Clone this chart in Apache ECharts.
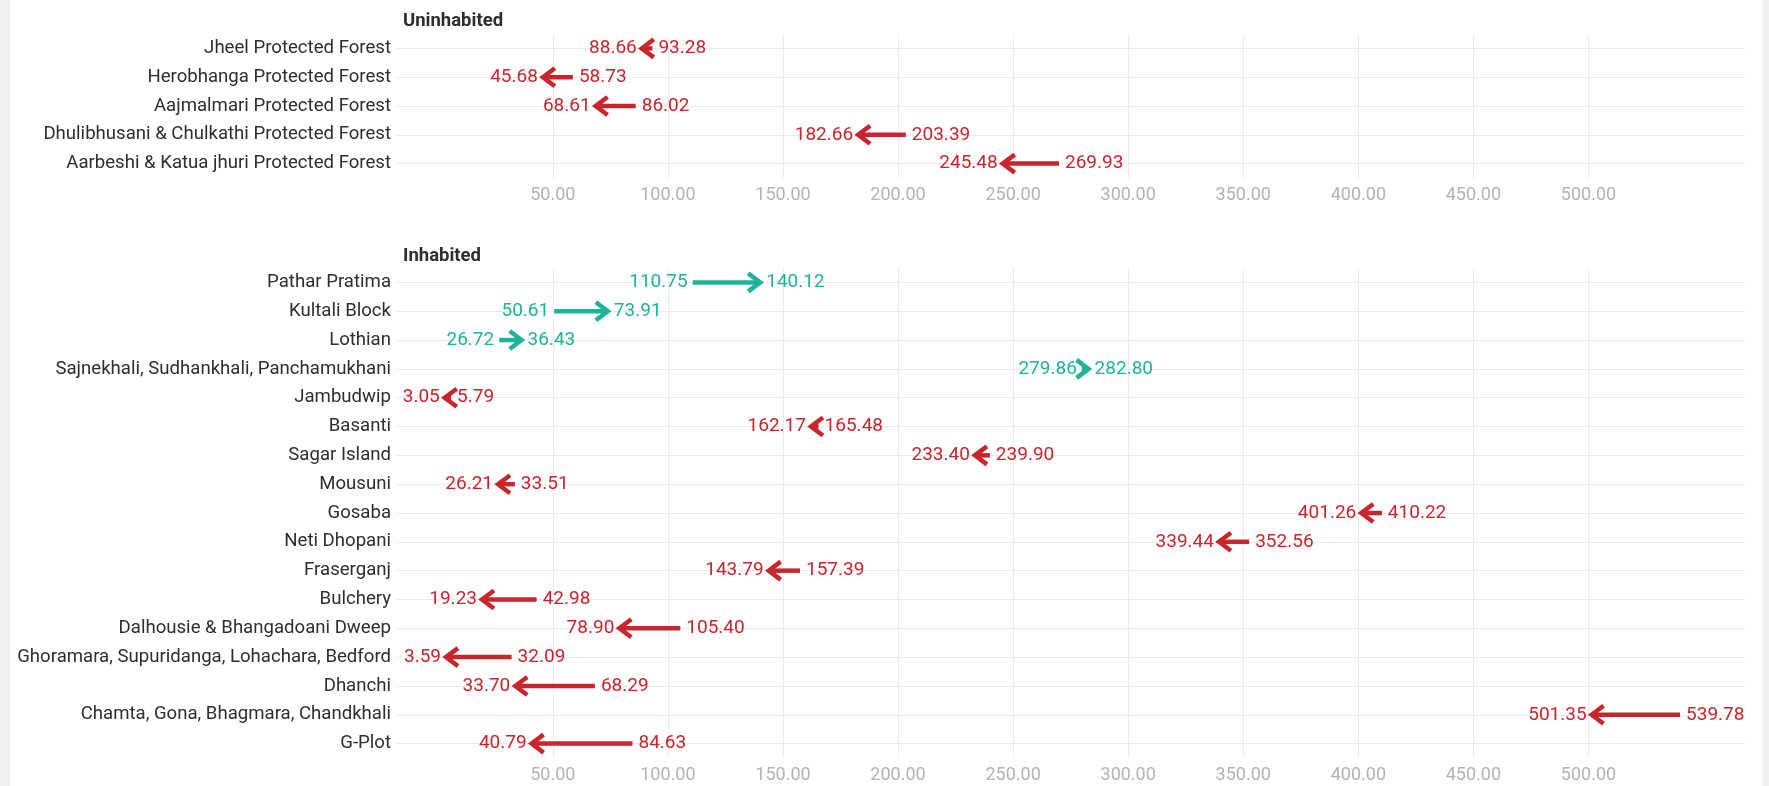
<!DOCTYPE html>
<html>
<head>
<meta charset="utf-8">
<script src="https://cdn.jsdelivr.net/npm/echarts@6.0.0/dist/echarts.min.js"></script>
<style>
  html, body { margin: 0; padding: 0; background: #fff; }
  #echar { width: 1769px; height: 786px; }
</style>
</head>
<body>
<div id="echar"></div>
<script>
// Uninhabited islands: old value -> new value
var uninhabitedNames = [
  "Jheel Protected Forest",
  "Herobhanga Protected Forest",
  "Aajmalmari Protected Forest",
  "Dhulibhusani & Chulkathi Protected Forest",
  "Aarbeshi & Katua jhuri Protected Forest"
];
var uninhabitedFrom = [93.28, 58.73, 86.02, 203.39, 269.93];
var uninhabitedTo = [88.66, 45.68, 68.61, 182.66, 245.48];

// Inhabited islands
var inhabitedNames = [
  "Pathar Pratima",
  "Kultali Block",
  "Lothian",
  "Sajnekhali, Sudhankhali, Panchamukhani",
  "Jambudwip",
  "Basanti",
  "Sagar Island",
  "Mousuni",
  "Gosaba",
  "Neti Dhopani",
  "Fraserganj",
  "Bulchery",
  "Dalhousie & Bhangadoani Dweep",
  "Ghoramara, Supuridanga, Lohachara, Bedford",
  "Dhanchi",
  "Chamta, Gona, Bhagmara, Chandkhali",
  "G-Plot"
];
var inhabitedFrom = [110.75, 50.61, 26.72, 279.86, 5.79, 165.48, 239.90, 33.51, 410.22, 352.56, 157.39, 42.98, 105.40, 32.09, 68.29, 539.78, 84.63];
var inhabitedTo = [140.12, 73.91, 36.43, 282.80, 3.05, 162.17, 233.40, 26.21, 401.26, 339.44, 143.79, 19.23, 78.90, 3.59, 33.70, 501.35, 40.79];

var xTicks = [50, 100, 150, 200, 250, 300, 350, 400, 450, 500];

var red = "#c9252c";
var teal = "#1fb39b";
var font = "Roboto";

function rows(from, to) {
  return from.map(function (v, i) {
    return [v, to[i], i];
  });
}

function indexList(names) {
  return names.map(function (n, i) {
    return i;
  });
}

function renderArrow(params, api) {
  var from = api.value(0);
  var to = api.value(1);
  var row = api.value(2);
  var p0 = api.coord([from, row]);
  var p1 = api.coord([to, row]);
  var up = to > from;
  var color = up ? teal : red;
  var dir = up ? -1 : 1;
  var y = p1[1];
  var tip = p1[0];
  var lo = up ? from : to;
  var hi = up ? to : from;
  return {
    type: "group",
    children: [
      {
        type: "line",
        shape: { x1: p0[0], y1: y, x2: tip + dir * 2, y2: y },
        style: { stroke: color, lineWidth: 4.5 }
      },
      {
        type: "polyline",
        shape: { points: [[tip + dir * 12, y - 9], [tip, y], [tip + dir * 12, y + 9]] },
        style: { stroke: color, fill: null, lineWidth: 4.5 }
      },
      {
        type: "text",
        x: Math.min(p0[0], p1[0]) - 5,
        y: y,
        style: {
          text: lo.toFixed(2), fill: color, fontSize: 19, fontFamily: font,
          align: "right", verticalAlign: "middle"
        }
      },
      {
        type: "text",
        x: Math.max(p0[0], p1[0]) + 6,
        y: y,
        style: {
          text: hi.toFixed(2), fill: color, fontSize: 19, fontFamily: font,
          align: "left", verticalAlign: "middle"
        }
      }
    ]
  };
}

function xAxisFor(gridIndex) {
  return {
    type: "value",
    gridIndex: gridIndex,
    min: -19,
    max: 568,
    axisLine: { show: false },
    axisTick: { show: false, customValues: xTicks },
    axisLabel: {
      customValues: xTicks,
      margin: 8,
      color: "#b3b3b3",
      fontSize: 18,
      fontFamily: font,
      formatter: function (v) {
        return v.toFixed(2);
      }
    },
    splitLine: { show: true, lineStyle: { color: "#ebebeb", width: 1 } }
  };
}

function yAxisFor(gridIndex, names) {
  var idx = indexList(names);
  return {
    type: "value",
    gridIndex: gridIndex,
    inverse: true,
    min: -0.5,
    max: names.length - 0.5,
    axisLine: { show: false },
    axisTick: { show: false, customValues: idx },
    axisLabel: {
      customValues: idx,
      margin: 3,
      color: "#2e2e2e",
      fontSize: 18.6,
      fontFamily: font,
      formatter: function (v) {
        return names[Math.round(v)];
      }
    },
    splitLine: { show: true, lineStyle: { color: "#ebebeb", width: 1 } }
  };
}

var mychart = echarts.init(document.getElementById("echar"));
var option = {
  backgroundColor: "#fff",
  animation: false,
  title: [
    {
      text: "Uninhabited", left: 398, top: 7,
      textStyle: { fontFamily: font, fontSize: 18.5, fontWeight: "bold", color: "#2e2e2e" }
    },
    {
      text: "Inhabited", left: 398, top: 242,
      textStyle: { fontFamily: font, fontSize: 18.5, fontWeight: "bold", color: "#2e2e2e" }
    }
  ],
  graphic: [
    { type: "rect", left: 0, top: 0, shape: { width: 10, height: 786 }, style: { fill: "#efefef" } },
    { type: "rect", right: 0, top: 0, shape: { width: 7, height: 786 }, style: { fill: "#efefef" } }
  ],
  grid: [
    { left: 394, right: 24, top: 34, height: 144 },
    { left: 394, right: 24, top: 268, height: 490 }
  ],
  xAxis: [xAxisFor(0), xAxisFor(1)],
  yAxis: [yAxisFor(0, uninhabitedNames), yAxisFor(1, inhabitedNames)],
  series: [
    {
      type: "custom",
      xAxisIndex: 0,
      yAxisIndex: 0,
      renderItem: renderArrow,
      encode: { x: [0, 1], y: 2 },
      data: rows(uninhabitedFrom, uninhabitedTo),
      clip: false
    },
    {
      type: "custom",
      xAxisIndex: 1,
      yAxisIndex: 1,
      renderItem: renderArrow,
      encode: { x: [0, 1], y: 2 },
      data: rows(inhabitedFrom, inhabitedTo),
      clip: false
    }
  ]
};
mychart.setOption(option);
</script>
</body>
</html>
